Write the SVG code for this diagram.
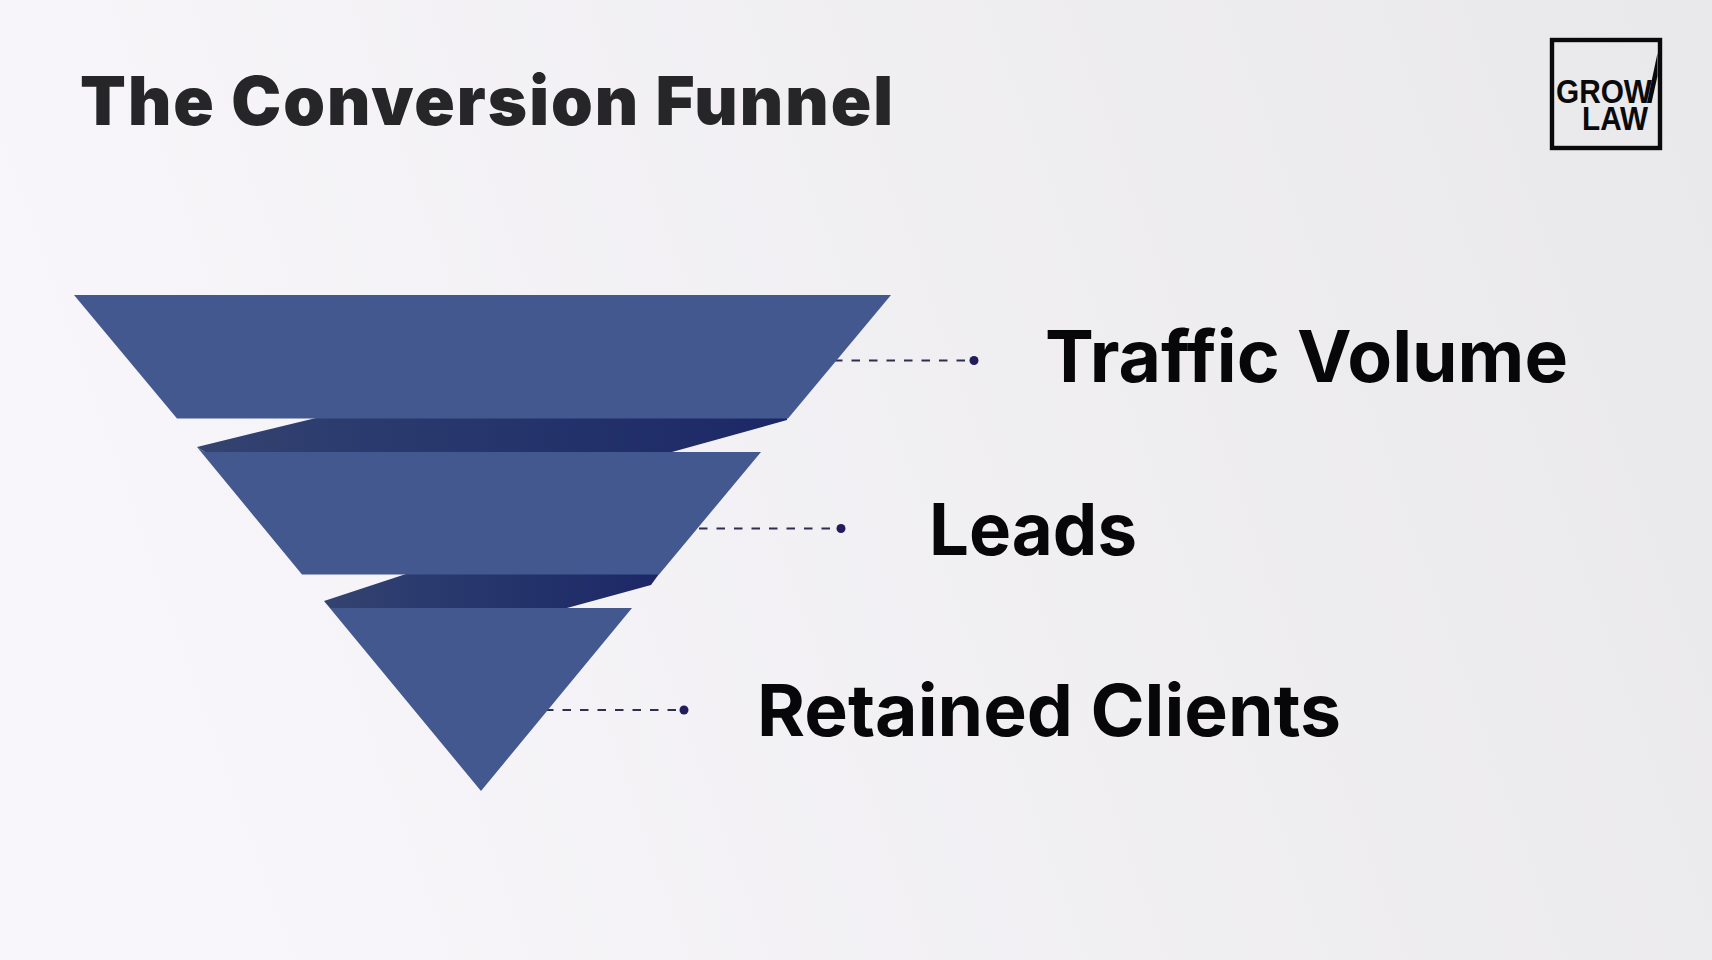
<svg xmlns="http://www.w3.org/2000/svg" width="1712" height="960" viewBox="0 0 1712 960">
<defs>
<linearGradient id="bg" x1="0" y1="0.35" x2="1" y2="0.15"><stop offset="0" stop-color="#f8f6fa"/><stop offset="1" stop-color="#e9e8ea"/></linearGradient>
<linearGradient id="band" x1="0" y1="0" x2="1" y2="0"><stop offset="0" stop-color="#34436f"/><stop offset="0.3" stop-color="#2a3a6e"/><stop offset="1" stop-color="#1c2866"/></linearGradient>
<style>
.seg{fill:#42588f}
.band{fill:url(#band)}
.lead{stroke:#2f2e50;stroke-width:2;stroke-dasharray:8.5 9;fill:none}
.dot{fill:#231c5c}
.label{font-family:"Inter","Liberation Sans",sans-serif;font-weight:700;font-size:72px;fill:#070709}
.title{font-family:"Inter","Liberation Sans",sans-serif;font-weight:900;font-size:67px;letter-spacing:2px;fill:#262628}
.logo{font-family:"Liberation Sans",Arial,sans-serif;font-weight:700;font-size:33px;fill:#0a0a0a}
</style>
</defs>
<rect width="1712" height="960" fill="url(#bg)"/>
<text class="title" x="80" y="124.5" textLength="815" lengthAdjust="spacingAndGlyphs">The Conversion Funnel</text>
<g id="logo">
<rect x="1552" y="40" width="108" height="108" fill="none" stroke="#0a0a0a" stroke-width="4.4"/>
<text class="logo"><tspan x="1556" y="103" textLength="96" lengthAdjust="spacingAndGlyphs">GROW</tspan><tspan x="1582" y="130" textLength="66" lengthAdjust="spacingAndGlyphs">LAW</tspan></text>
<polygon points="1647,103 1657.5,53 1657.5,76 1651.5,103" fill="#0a0a0a"/>
</g>
<g id="funnel-bands">
<polygon class="band" points="316,418 787,418 787,420 672,452 205,452 197,447"/>
<polygon class="band" points="406,574 659,574 651,585 567,608 330,608 324,601"/>
</g>
<g id="connectors">
<line class="lead" x1="834" y1="360.5" x2="970" y2="360.5"/>
<line class="lead" x1="699" y1="528.5" x2="837" y2="528.5"/>
<line class="lead" x1="545" y1="710" x2="680" y2="710"/>
<circle class="dot" cx="974" cy="360.5" r="4.5"/>
<circle class="dot" cx="841" cy="528.5" r="4.5"/>
<circle class="dot" cx="684" cy="710" r="4.5"/>
</g>
<g id="node-traffic">
<polygon class="seg" points="74,295 891,295 788,418.5 177,418.5"/>
<text class="label" x="1045" y="382" textLength="523" lengthAdjust="spacingAndGlyphs">Traffic Volume</text>
</g>
<g id="node-leads">
<polygon class="seg" points="197,447 205,452 761,452 659,574.5 302,574.5"/>
<text class="label" x="929" y="555" textLength="208" lengthAdjust="spacingAndGlyphs">Leads</text>
</g>
<g id="node-clients">
<polygon class="seg" points="324,601 330,608 632,608 481,791"/>
<text class="label" x="757" y="736" textLength="584" lengthAdjust="spacingAndGlyphs">Retained Clients</text>
</g>
</svg>
